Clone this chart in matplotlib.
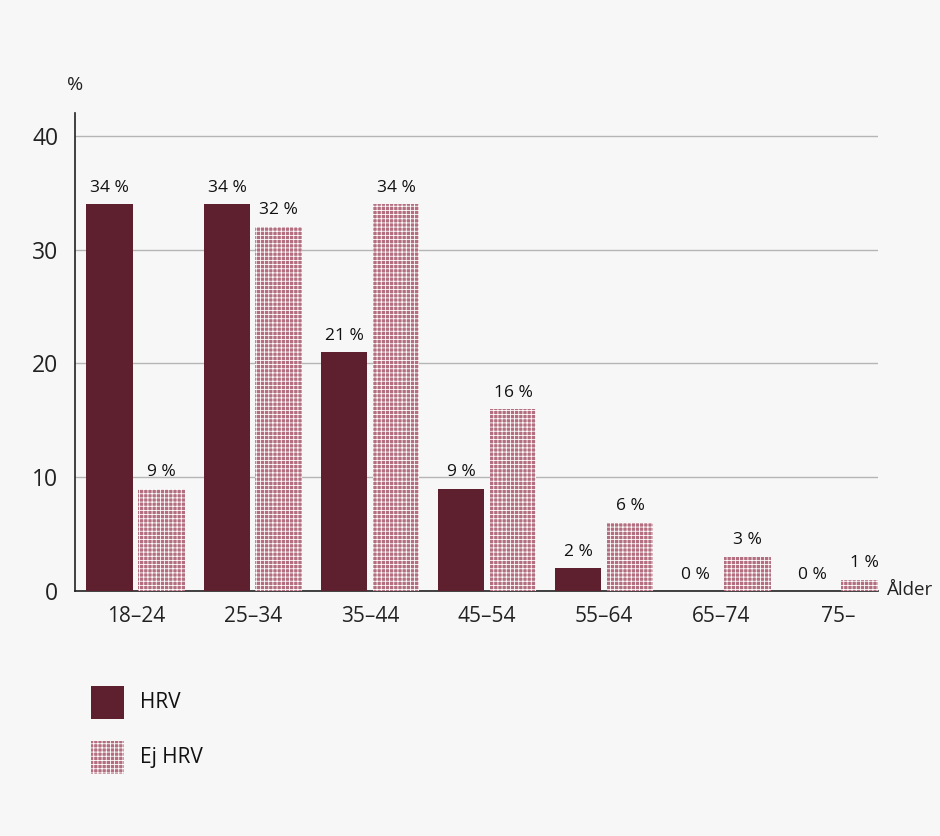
import matplotlib.pyplot as plt
from matplotlib.patches import Rectangle
import numpy as np

plt.rcParams['font.family'] = ['Open Sans', 'DejaVu Sans']
plt.rcParams['hatch.linewidth'] = 0.6

ages = ['18–24', '25–34', '35–44', '45–54', '55–64', '65–74', '75–']
hrv = [34, 34, 21, 9, 2, 0, 0]
ej_hrv = [9, 32, 34, 16, 6, 3, 1]
series_names = ['HRV', 'Ej HRV']

DARK = '#5e1f2f'
PINK = '#b36f80'
BG = '#f7f7f7'
HATCH = '++++'

fig = plt.figure(figsize=(9.4, 8.36), dpi=100, facecolor=BG)
ax = fig.add_axes([0.0798, 0.2931, 0.934 - 0.0798, 0.8648 - 0.2931])
ax.set_facecolor(BG)

x = np.arange(len(ages))
w = 0.40
off = 0.022 + w / 2
b1 = ax.bar(x - off, hrv, w, color=DARK, zorder=3)
b2 = ax.bar(x + off, ej_hrv, w, color=PINK, edgecolor='white', linewidth=0,
            hatch=HATCH, zorder=3)

for bars, vals in ((b1, hrv), (b2, ej_hrv)):
    for b, v in zip(bars, vals):
        ax.annotate(f'{v} %', (b.get_x() + b.get_width() / 2, v),
                    xytext=(0, 6), textcoords='offset points', ha='center', va='bottom',
                    fontsize=12.5, color='#111111')

ax.set_xlim(-0.52, 6.34)
ax.set_ylim(0, 42)
ax.set_yticks([0, 10, 20, 30, 40])
ax.yaxis.grid(True, color='#b5b5b5', linewidth=1, zorder=0)
ax.set_xticks(x)
ax.set_xticklabels(ages, fontsize=15)
ax.tick_params(axis='y', labelsize=16.5, length=0, pad=12, labelcolor='#222222')
ax.tick_params(axis='x', length=0, pad=11, labelcolor='#222222')
for s in ('top', 'right'):
    ax.spines[s].set_visible(False)
ax.spines['left'].set_color('#222222')
ax.spines['bottom'].set_color('#222222')
ax.spines['left'].set_linewidth(1.2)
ax.spines['bottom'].set_linewidth(1.2)

fig.text(75 / 940, 1 - 85 / 836, '%', fontsize=14, ha='center', va='center', color='#222222')
fig.text(887 / 940, 1 - 590 / 836, 'Ålder', fontsize=13.5, ha='left', va='center', color='#222222')

# legend drawn by hand so the swatches are square
for i, name in enumerate(series_names):
    top = 686 + i * 55
    kw = dict(facecolor=DARK) if i == 0 else dict(facecolor=PINK, edgecolor='white', linewidth=0, hatch=HATCH)
    fig.patches.append(Rectangle((91 / 940, 1 - (top + 33) / 836), 33 / 940, 33 / 836,
                                 transform=fig.transFigure, figure=fig, **kw))
    fig.text(140 / 940, 1 - (top + 17) / 836, name, fontsize=15, ha='left', va='center',
             color='#111111')

fig.savefig('out.png', dpi=100, facecolor=BG)
